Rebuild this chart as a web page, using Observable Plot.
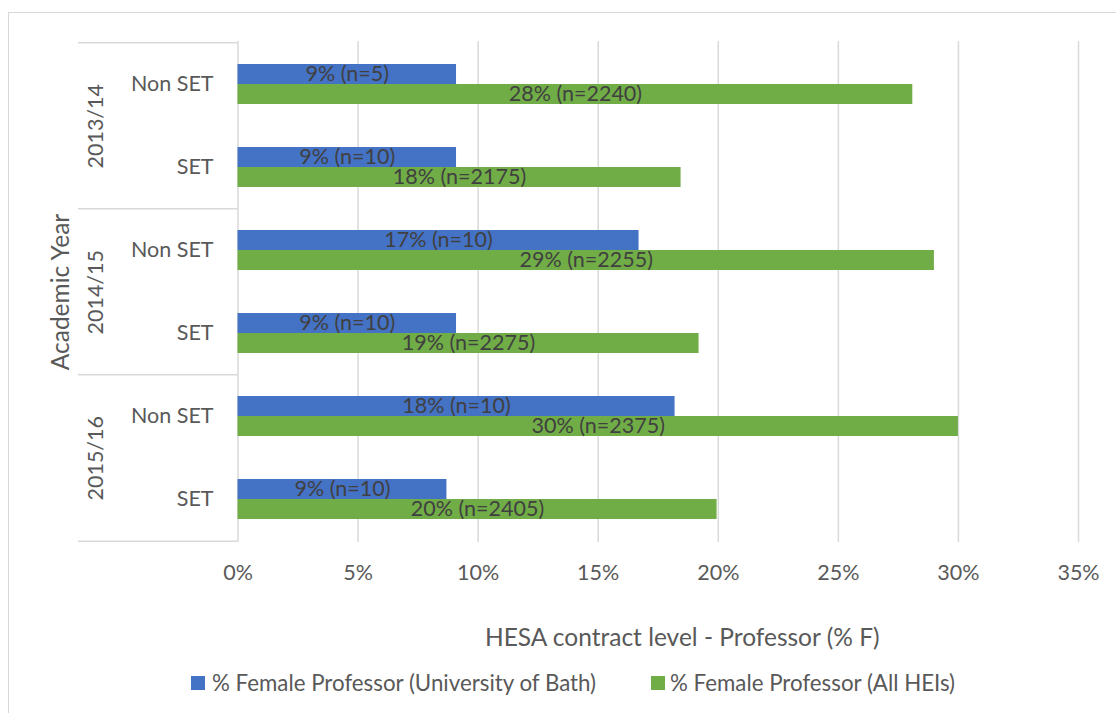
<!DOCTYPE html>
<html>
<head>
<meta charset="utf-8">
<script src="https://cdn.jsdelivr.net/npm/d3@7"></script>
<script src="https://cdn.jsdelivr.net/npm/@observablehq/plot@0.6"></script>
<style>
  html, body { margin: 0; padding: 0; background: #fff; width: 1116px; height: 713px; overflow: hidden; }
  #frame { position: absolute; left: 8px; top: 12px; width: 1200px; height: 800px; border: 1.5px solid #d9d9d9; box-sizing: border-box; }
  #chart { position: absolute; left: 0; top: 0; }
  .legend { position: absolute; top: 672px; font-family: Lato, sans-serif; font-size: 22.3px; color: #595959; white-space: nowrap; line-height: 22px; }
  .sw { position: absolute; top: 676px; width: 14px; height: 14px; }
</style>
</head>
<body>
<div id="frame"></div>
<div id="chart"></div>
<div id="legend"></div>
<script>
// ---- data ----
const years = ["2013/14", "2014/15", "2015/16"];
const groups = ["Non SET", "SET"];
const bathPct = [9.1, 9.1, 16.7, 9.1, 18.2, 8.7];
const bathN = [5, 10, 10, 10, 10, 10];
const allPct = [28.1, 18.45, 29.0, 19.2, 30.0, 19.95];
const allN = [2240, 2175, 2255, 2275, 2375, 2405];
const xTicks = [0, 5, 10, 15, 20, 25, 30, 35];
const seriesNames = ["% Female Professor (University of Bath)", "% Female Professor (All HEIs)"];
const seriesColors = ["#4472C4", "#70AD47"];
const xTitle = "HESA contract level - Professor (% F)";
const yTitle = "Academic Year";

// ---- table ----
const keys = years.flatMap(y => groups.map(g => y + "|" + g));
const rows = keys.map((k, i) => ({key: k, bath: bathPct[i], bathN: bathN[i], all: allPct[i], allN: allN[i]}));

const W = 1116, H = 665, mt = 41, mb = 123, ml = 237.5, mr = 38;
const step = (H - mt - mb) / keys.length;
const pad = 0.521;
const half = step * (1 - pad) / 2;
const fs = 21.5, fsTitle = 24.5;
const txt = "#595959", lab = "#404040", grid = "#d9d9d9";

const chart = Plot.plot({
  width: W, height: H,
  marginLeft: ml, marginRight: mr, marginTop: mt, marginBottom: mb,
  x: {domain: [0, 35]},
  y: {domain: keys, paddingInner: pad, paddingOuter: pad / 2},
  style: {fontFamily: "Lato, sans-serif", background: "transparent", overflow: "visible"},
  marks: [
    Plot.ruleX(xTicks, {stroke: grid, strokeWidth: 1.5}),
    Plot.ruleY(years, {y: d => d + "|" + groups[0], dy: -step / 2, insetLeft: -(ml - 78), insetRight: W - mr - ml, stroke: grid, strokeWidth: 1.5}),
    Plot.ruleY([years[years.length - 1]], {y: d => d + "|" + groups[1], dy: step / 2, insetLeft: -(ml - 78), insetRight: W - mr - ml, stroke: grid, strokeWidth: 1.5}),
    Plot.barX(rows, {x: "bath", y: "key", fill: seriesColors[0], insetBottom: half}),
    Plot.barX(rows, {x: "all", y: "key", fill: seriesColors[1], insetTop: half}),
    Plot.text(rows, {x: d => d.bath / 2, y: "key", dy: -half / 2, text: d => `${Math.round(d.bath)}% (n=${d.bathN})`, fill: lab, fontSize: fs}),
    Plot.text(rows, {x: d => d.all / 2, y: "key", dy: half / 2, text: d => `${Math.round(d.all)}% (n=${d.allN})`, fill: lab, fontSize: fs}),
    Plot.axisY({tickSize: 0, tickPadding: 24.5, tickFormat: k => k.split("|")[1], fontSize: fs, color: txt, label: null}),
    Plot.axisX({ticks: xTicks, tickSize: 0, tickPadding: 22, tickFormat: d => d + "%", fontSize: fs, color: txt, label: null}),
    Plot.text(years, {y: d => d + "|" + groups[0], dy: step / 2, frameAnchor: "left", dx: -(ml - 96), rotate: -90, textAnchor: "middle", text: d => d, fontSize: fs, fill: txt}),
    Plot.text([yTitle], {frameAnchor: "left", dx: -(ml - 61), rotate: -90, textAnchor: "middle", text: d => d, fontSize: fsTitle, fill: txt}),
    Plot.text([xTitle], {frameAnchor: "bottom", dx: 24, dy: 96, textAnchor: "middle", lineAnchor: "middle", text: d => d, fontSize: fsTitle, fill: txt})
  ]
});
document.getElementById("chart").appendChild(chart);

// ---- legend ----
const legend = document.getElementById("legend");
const swX = [191, 651], txX = [212, 670];
seriesNames.forEach((n, i) => {
  const s = document.createElement("div");
  s.className = "sw"; s.style.left = swX[i] + "px"; s.style.background = seriesColors[i];
  legend.appendChild(s);
  const t = document.createElement("div");
  t.className = "legend"; t.style.left = txX[i] + "px"; t.textContent = n;
  legend.appendChild(t);
});
</script>
</body>
</html>
